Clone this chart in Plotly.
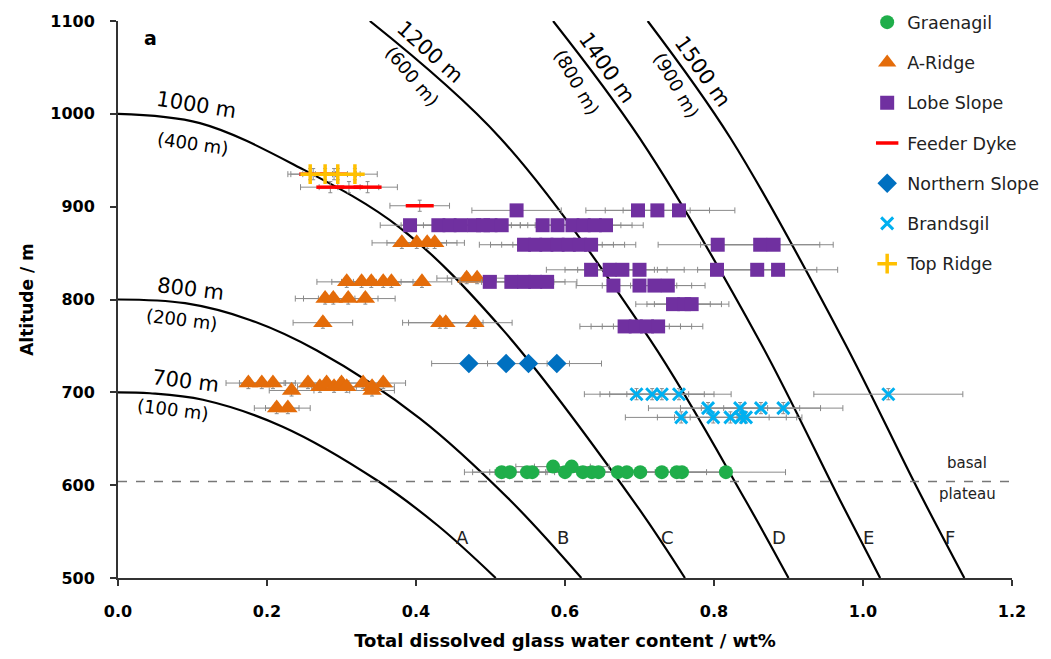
import plotly.graph_objects as go

# ---------------- data ----------------
# Graenagil
gr_x = [0.515, 0.526, 0.549, 0.556, 0.584, 0.600, 0.609, 0.624, 0.636, 0.645, 0.671, 0.683, 0.701, 0.730, 0.750, 0.757, 0.816]
gr_y = [614, 614, 614, 614, 620, 614, 620, 614, 614, 614, 614, 614, 614, 614, 614, 614, 614]
gr_e = [0.05, 0.05, 0.05, 0.05, 0.05, 0.05, 0.05, 0.05, 0.05, 0.05, 0.05, 0.05, 0.05, 0.06, 0.06, 0.06, 0.08]

# A-Ridge
ar_x = [0.381, 0.401, 0.415, 0.425,
        0.307, 0.327, 0.340, 0.356, 0.367, 0.408, 0.468, 0.482,
        0.278, 0.289, 0.309, 0.332,
        0.275, 0.432, 0.440, 0.479,
        0.175, 0.193, 0.208, 0.255, 0.271, 0.280, 0.290, 0.300, 0.307, 0.329, 0.341, 0.356,
        0.233, 0.341, 0.213, 0.228]
ar_y = [861, 861, 861, 861,
        819, 819, 819, 819, 819, 819, 823, 823,
        801, 801, 801, 801,
        775, 775, 775, 775,
        710, 710, 710, 710, 706, 710, 706, 710, 706, 710, 706, 710,
        702, 702, 683, 683]
ar_e = [0.04, 0.04, 0.04, 0.04,
        0.04, 0.04, 0.04, 0.04, 0.04, 0.04, 0.04, 0.04,
        0.04, 0.04, 0.04, 0.04,
        0.04, 0.05, 0.05, 0.05,
        0.03, 0.03, 0.03, 0.03, 0.03, 0.03, 0.03, 0.03, 0.03, 0.03, 0.03, 0.03,
        0.03, 0.03, 0.03, 0.03]

# Lobe Slope
ls_x = [0.535, 0.698, 0.724, 0.753,
        0.392, 0.430, 0.445, 0.460, 0.478, 0.490, 0.500, 0.515, 0.570, 0.590, 0.610, 0.625, 0.640, 0.655,
        0.545, 0.560, 0.575, 0.590, 0.605, 0.620, 0.635, 0.805, 0.862, 0.880,
        0.635, 0.660, 0.677, 0.700, 0.804, 0.858, 0.886,
        0.499, 0.528, 0.545, 0.560, 0.576,
        0.665, 0.700, 0.720, 0.738,
        0.745, 0.760, 0.770,
        0.680, 0.695, 0.710, 0.725]
ls_y = [896, 896, 896, 896,
        880, 880, 880, 880, 880, 880, 880, 880, 880, 880, 880, 880, 880, 880,
        859, 859, 859, 859, 859, 859, 859, 859, 859, 859,
        832, 832, 832, 832, 832, 832, 832,
        819, 819, 819, 819, 819,
        815, 815, 815, 815,
        795, 795, 795,
        771, 771, 771, 771]
ls_e = [0.06, 0.07, 0.07, 0.075,
        0.04, 0.05, 0.05, 0.05, 0.05, 0.05, 0.05, 0.05, 0.05, 0.05, 0.05, 0.05, 0.05, 0.05,
        0.06, 0.06, 0.06, 0.06, 0.06, 0.06, 0.06, 0.08, 0.08, 0.08,
        0.06, 0.06, 0.06, 0.06, 0.08, 0.08, 0.08,
        0.04, 0.04, 0.04, 0.04, 0.04,
        0.05, 0.05, 0.05, 0.05,
        0.05, 0.05, 0.05,
        0.06, 0.06, 0.06, 0.06]

# Feeder Dyke
fd_x = [0.262, 0.290, 0.285, 0.310, 0.335, 0.405]
fd_y = [935, 935, 921, 921, 921, 901]
fd_e = [0.03, 0.03, 0.04, 0.04, 0.04, 0.04]

# Northern Slope
ns_x = [0.471, 0.521, 0.551, 0.589]
ns_y = [731, 731, 731, 731]
ns_e = [0.05, 0.055, 0.055, 0.06]

# Brandsgil
bg_x = [0.696, 0.717, 0.730, 0.753, 1.034,
        0.792, 0.835, 0.863, 0.893,
        0.756, 0.799, 0.822, 0.836, 0.843]
bg_y = [698, 698, 698, 698, 698,
        683, 683, 683, 683,
        673, 673, 673, 673, 673]
bg_e = [0.07, 0.07, 0.07, 0.07, 0.10,
        0.08, 0.08, 0.08, 0.08,
        0.075, 0.075, 0.075, 0.075, 0.075]

# Top Ridge
tr_x = [0.258, 0.278, 0.295, 0.318]
tr_y = [935, 935, 935, 935]
tr_e = [0.03, 0.03, 0.03, 0.03]

# Degassing curves (labelled by starting altitude)
c700_x = [0.0, 0.043, 0.114, 0.221, 0.348, 0.430, 0.507]
c700_y = [700, 699, 692, 663, 605, 556, 500]
c800_x = [0.0, 0.090, 0.177, 0.267, 0.405, 0.526, 0.622]
c800_y = [800, 796, 778, 745, 672, 584, 500]
c1000_x = [0.0, 0.110, 0.244, 0.379, 0.517, 0.691, 0.761]
c1000_y = [1000, 990, 942, 877, 767, 584, 500]
c1200_x = [0.338, 0.513, 0.714, 0.842, 0.900]
c1200_y = [1100, 974, 757, 584, 500]
c1400_x = [0.584, 0.700, 0.860, 0.969, 1.023]
c1400_y = [1100, 974, 757, 584, 500]
c1500_x = [0.711, 0.822, 0.973, 1.072, 1.136]
c1500_y = [1100, 974, 757, 598, 500]

curve_letters = ["A", "B", "C", "D", "E", "F"]
letter_x = [0.463, 0.597, 0.738, 0.887, 1.007, 1.117]
letter_y = [544, 544, 544, 544, 544, 544]

basal_level = 604

FONT = "DejaVu Sans"
fig = go.Figure()

# curves
for cx, cy in [(c700_x, c700_y), (c800_x, c800_y), (c1000_x, c1000_y),
               (c1200_x, c1200_y), (c1400_x, c1400_y), (c1500_x, c1500_y)]:
    fig.add_trace(go.Scatter(x=cx, y=cy, mode="lines", line=dict(color="black", width=2.2, shape="spline"),
                             showlegend=False, hoverinfo="skip"))

# basal plateau line
fig.add_trace(go.Scatter(x=[0, 1.2], y=[basal_level, basal_level], mode="lines",
                         line=dict(color="#777777", width=1.5, dash="dash"), showlegend=False, hoverinfo="skip"))

def err(e):
    return dict(type="data", array=e, color="#8a8a8a", thickness=1, width=3)

def erry():
    return dict(type="constant", value=6, color="#8a8a8a", thickness=1, width=2)

series = [
    ("Graenagil", gr_x, gr_y, gr_e, dict(symbol="circle", size=14, color="#1fae4a")),
    ("A-Ridge", ar_x, ar_y, ar_e, dict(symbol="triangle-up", size=17, color="#e46c0a")),
    ("Lobe Slope", ls_x, ls_y, ls_e, dict(symbol="square", size=14, color="#7030a0")),
    ("Feeder Dyke", fd_x, fd_y, fd_e, dict(symbol="line-ew", size=20, color="#ff0000", line=dict(color="#ff0000", width=3.5))),
    ("Northern Slope", ns_x, ns_y, ns_e, dict(symbol="diamond", size=15, color="#0070c0")),
    ("Brandsgil", bg_x, bg_y, bg_e, dict(symbol="x-thin", size=12, color="#00b0f0", line=dict(color="#00b0f0", width=3))),
    ("Top Ridge", tr_x, tr_y, tr_e, dict(symbol="cross-thin", size=14, color="#ffc000", line=dict(color="#ffc000", width=3.5))),
]
for i, (name, xs, ys, es, mk) in enumerate(series):
    fig.add_trace(go.Scatter(x=xs, y=ys, mode="markers", name=name, marker=mk,
                             error_x=err(es), error_y=erry(), legendgroup=str(i)))

# annotations
labels = [
    ("1000 m", 0.106, 1009, 21, 9), ("(400 m)", 0.100, 968, 18, 8),
    ("800 m", 0.097, 811, 21, 7), ("(200 m)", 0.086, 779, 18, 7),
    ("700 m", 0.090, 712, 21, 7), ("(100 m)", 0.074, 681, 18, 7),
    ("1200 m", 0.419, 1067, 21, 42), ("(600 m)", 0.395, 1040, 18, 50),
    ("1400 m", 0.656, 1049, 21, 55), ("(800 m)", 0.616, 1034, 18, 60),
    ("1500 m", 0.785, 1045, 21, 55), ("(900 m)", 0.750, 1031, 18, 60),
]
for t, x, y, s, a in labels:
    fig.add_annotation(x=x, y=y, text=t, showarrow=False, textangle=a,
                       font=dict(family=FONT, size=s, color="black"))
for t, x, y in zip(curve_letters, letter_x, letter_y):
    fig.add_annotation(x=x, y=y, text=t, showarrow=False, font=dict(family=FONT, size=18, color="#222"))
fig.add_annotation(x=1.14, y=624, text="basal", showarrow=False, font=dict(family=FONT, size=15, color="#222"))
fig.add_annotation(x=1.14, y=591, text="plateau", showarrow=False, font=dict(family=FONT, size=15, color="#222"))
fig.add_annotation(x=0.043, y=1082, text="<b>a</b>", showarrow=False, font=dict(family=FONT, size=19, color="black"))

fig.update_layout(
    width=1051, height=659,
    margin=dict(l=110, r=47, t=13, b=89, autoexpand=False),
    plot_bgcolor="white", paper_bgcolor="white",
    font=dict(family=FONT, color="black"),
    legend=dict(x=0.838, y=1.03, xanchor="left", yanchor="top",
                tracegroupgap=14.5, font=dict(family=FONT, size=17.5, color="#222"), bgcolor="rgba(0,0,0,0)"),
    xaxis=dict(range=[0, 1.2], tickvals=[0, 0.2, 0.4, 0.6, 0.8, 1.0, 1.2],
               ticktext=["0.0", "0.2", "0.4", "0.6", "0.8", "1.0", "1.2"],
               showgrid=False, zeroline=False, showline=True, linecolor="#333", linewidth=2,
               ticks="outside", ticklen=6, tickcolor="#333", tickwidth=1.5, ticklabelstandoff=12,
               tickfont=dict(family=FONT, size=16, color="black", weight="bold"), automargin=False,
               title=dict(text="<b>Total dissolved glass water content / wt%</b>", font=dict(family=FONT, size=18), standoff=14)),
    yaxis=dict(range=[500, 1100], tickvals=[500, 600, 700, 800, 900, 1000, 1100],
               showgrid=False, zeroline=False, showline=True, linecolor="#333", linewidth=2,
               ticks="outside", ticklen=6, tickcolor="#333", tickwidth=1.5, ticklabelstandoff=12,
               tickfont=dict(family=FONT, size=16, color="black", weight="bold"), automargin=False,
               title=dict(text="<b>Altitude / m</b>", font=dict(family=FONT, size=17), standoff=12)),
)

fig.write_html("out.html")
